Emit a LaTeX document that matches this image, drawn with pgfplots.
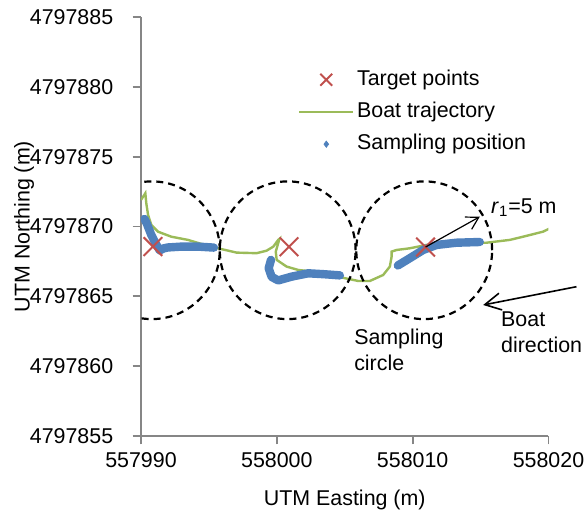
\documentclass[border=0pt]{standalone}
\usepackage{fontspec}
\setmainfont{Liberation Sans}
\usepackage{pgfplots}
\pgfplotsset{compat=1.18}
\usepackage{pgfplotstable}
\usetikzlibrary{arrows.meta}

\definecolor{xred}{HTML}{C0504D}
\definecolor{xgreen}{HTML}{9BBB59}
\definecolor{xblue}{HTML}{4F81BD}
\definecolor{axgray}{HTML}{868686}

% all positions in metres, relative to 557990 E / 4797855 N (UTM)
% (pgfplots' float math is too coarse for the absolute UTM values)
\pgfplotstableread{
x y
0.88 13.56
10.90 13.55
20.95 13.53
}\targets

\pgfplotstableread{
x y
0.00 16.90
0.32 17.38
0.39 16.66
0.52 15.83
0.76 15.11
1.25 14.63
2.23 14.27
3.46 14.04
4.69 13.68
5.67 13.44
7.04 13.13
8.51 13.09
9.25 13.27
9.74 13.56
10.10 14.04
10.19 14.11
9.92 13.20
9.99 12.61
10.72 12.13
11.57 11.89
12.19 11.82
13.54 11.60
15.01 11.30
15.99 11.10
16.85 11.10
17.83 11.53
18.32 12.13
18.45 12.84
18.45 13.20
18.82 13.32
19.79 13.44
21.02 13.68
22.74 13.80
25.44 13.84
27.15 14.04
28.13 14.27
29.60 14.63
30.10 14.87
}\trajectory

\pgfplotstableread{
x y
0.26 15.54
0.44 15.18
0.76 14.39
1.10 13.75
1.38 13.29
1.69 13.44
1.99 13.50
2.97 13.56
4.19 13.56
5.37 13.49
nan nan
9.57 12.61
9.40 12.01
9.62 11.39
10.10 11.14
11.09 11.41
12.31 11.65
13.54 11.58
14.64 11.50
nan nan
18.91 12.21
19.79 12.73
20.77 13.32
21.76 13.68
23.23 13.84
24.94 13.89
}\sampling

\begin{document}
\fontsize{10.7}{12.8}\selectfont
\begin{tikzpicture}
\begin{axis}[
  scale only axis, width=203.75pt, height=209.5pt,
  xmin=0, xmax=30, ymin=0, ymax=30,
  axis lines*=left,
  axis line style={axgray, line width=0.9pt},
  xtick={0,10,20,30},
  xticklabels={557990,558000,558010,558020},
  ytick={0,5,...,30},
  yticklabels={4797855,4797860,4797865,4797870,4797875,4797880,4797885},
  tick align=outside, major tick length=4.2pt,
  tick style={axgray, line width=0.9pt},
  yticklabel style={anchor=east, inner sep=0pt, xshift=-9.5pt},
  xticklabel style={anchor=north, inner sep=0pt, yshift=-4pt},
  xlabel={UTM Easting (m)}, ylabel={UTM Northing (m)},
  every axis y label/.style={at={(axis description cs:-0.2871,0.5)}, rotate=90, anchor=center},
  every axis x label/.style={at={(axis description cs:0.5,-0.1527)}, anchor=center},
  unbounded coords=jump,
  legend cell align=left,
  legend style={draw=none, fill=none, inner sep=0pt, outer sep=0pt,
    at={(axis cs:11.55,23.2)}, anchor=west, row sep=5.8pt,
    nodes={inner sep=0pt, text height=8pt, text depth=2.3pt},
    /tikz/every odd column/.append style={column sep=1.2pt}},
]
\addplot[only marks, mark=x, mark size=6.6pt, color=xred, mark options={line width=1pt},
  legend image code/.code={\draw[xred, line width=1pt] plot[mark=x, mark size=4.2pt, only marks] coordinates {(13.5pt,0pt)};}]
  table {\targets};
\addlegendentry{Target points}

\addplot[xgreen, line width=1.2pt, no marks,
  legend image code/.code={\draw[xgreen, line width=1.4pt] (0pt,0pt) -- (27pt,0pt);}]
  table {\trajectory};
\addlegendentry{Boat trajectory}

\addplot[xblue, line width=4.2pt, line cap=round, line join=round, no marks,
  legend image code/.code={\draw[xblue, line width=0.3pt, line join=miter] plot[mark=diamond*, mark size=1.6pt, only marks] coordinates {(13.5pt,0pt)};}]
  table {\sampling};
\addlegendentry{Sampling position}

% sampling circles, r = 5 m
\draw[black, line width=1.1pt, dash pattern=on 3.5pt off 2.5pt] (axis cs:0.8,13.3) ellipse [x radius=5, y radius=4.93];
\draw[black, line width=1.1pt, dash pattern=on 3.5pt off 2.5pt] (axis cs:10.8,13.3) ellipse [x radius=5, y radius=4.93];
\draw[black, line width=1.1pt, dash pattern=on 3.5pt off 2.5pt] (axis cs:20.85,13.3) ellipse [x radius=5, y radius=4.93];

\coordinate (ll) at (rel axis cs:0,0);
\coordinate (ur) at (rel axis cs:1,1);
\coordinate (rS) at (axis cs:20.95,13.53);
\coordinate (rE) at (axis cs:24.94,15.70);
\coordinate (rL) at (axis cs:25.75,16.33);
\coordinate (bS) at (axis cs:32.06,10.69);
\coordinate (bE) at (axis cs:25.19,9.38);
\coordinate (bL) at (axis cs:26.49,7.42);
\coordinate (sL) at (axis cs:15.67,6.16);
\end{axis}

\draw[line width=0.6pt, -{Straight Barb[length=6pt,width=7pt]}] (rS) -- (rE);
\node[anchor=west, inner sep=0pt] at (rL) {\textit{r}\textsubscript{1}=5 m};
\draw[line width=0.8pt, -{Straight Barb[length=8pt,width=8.5pt]}] (bS) -- (bE);
\node[anchor=west, align=left, inner sep=0pt] at (bL) {Boat\\direction};
\node[anchor=west, align=left, inner sep=0pt] at (sL) {Sampling\\circle};

\path ([shift={(-70.5pt,-47pt)}]ll) rectangle ([shift={(19.75pt,8.5pt)}]ur);
\end{tikzpicture}
\end{document}
